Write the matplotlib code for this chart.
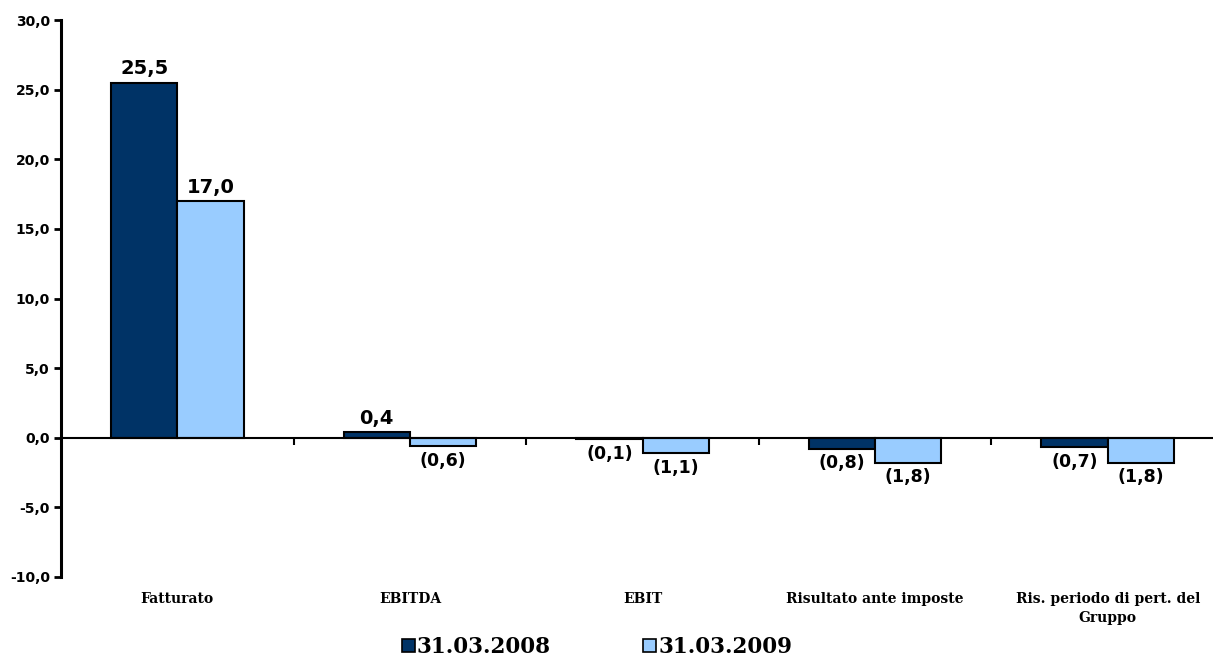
import matplotlib
matplotlib.use("Agg")
import matplotlib.pyplot as plt
from matplotlib.patches import Patch
import numpy as np

categories = ["Fatturato", "EBITDA", "EBIT", "Risultato ante imposte",
              "Ris. periodo di pert. del\nGruppo"]
series_names = ["31.03.2008", "31.03.2009"]
values_2008 = [25.5, 0.4, -0.1, -0.8, -0.7]
values_2009 = [17.0, -0.6, -1.1, -1.8, -1.8]
yticks = [-10, -5, 0, 5, 10, 15, 20, 25, 30]

dark = "#003366"
light = "#99CCFF"

W, H = 1213, 657
fig = plt.figure(figsize=(W / 100, H / 100), dpi=100)
left_px, right_px, top_px, bottom_px = 61, 1224, 20, 577
ax = fig.add_axes([left_px / W, 1 - bottom_px / H,
                   (right_px - left_px) / W, (bottom_px - top_px) / H])

x = np.arange(len(categories))
bw = 0.285
b1 = ax.bar(x - bw / 2, values_2008, bw, color=dark, edgecolor="black", linewidth=1.5, zorder=3)
b2 = ax.bar(x + bw / 2, values_2009, bw, color=light, edgecolor="black", linewidth=1.5, zorder=3)

ax.set_xlim(-0.5, len(categories) - 0.5)
ax.set_ylim(-10, 30)


def fmt(v):
    s = f"{abs(v):.1f}".replace(".", ",")
    return f"({s})" if v < 0 else s


for bars, vals in ((b1, values_2008), (b2, values_2009)):
    for rect, v in zip(bars, vals):
        cx = rect.get_x() + rect.get_width() / 2
        if v >= 0:
            ax.annotate(fmt(v), (cx, v), xytext=(0, 3), textcoords="offset points",
                        ha="center", va="bottom", fontsize=14, fontweight="bold",
                        family="DejaVu Sans", zorder=5)
        else:
            ax.annotate(fmt(v), (cx, v), xytext=(0, -4), textcoords="offset points",
                        ha="center", va="top", fontsize=12.5, fontweight="bold",
                        family="DejaVu Sans", zorder=5)

# y axis
ax.set_yticks(yticks)
ax.set_yticklabels([f"{t:.1f}".replace(".", ",") for t in yticks],
                   fontsize=10, fontweight="bold", family="DejaVu Sans")
ax.tick_params(axis="y", direction="out", length=5, width=2, pad=3)
ax.spines["left"].set_linewidth(2.2)
ax.spines["right"].set_visible(False)
ax.spines["top"].set_visible(False)
ax.spines["bottom"].set_position(("data", 0))
ax.spines["bottom"].set_linewidth(1.5)
ax.spines["bottom"].set_zorder(4)

ax.set_xticks(np.arange(0.5, len(categories) - 0.5, 1.0))
ax.set_xticklabels([])
ax.tick_params(axis="x", direction="out", length=5, width=1.5)

for xi, c in zip(x, categories):
    ax.annotate(c, (xi, 0), xycoords=("data", "axes fraction"), xytext=(0, -11),
                textcoords="offset points", ha="center", va="top",
                fontsize=10, fontweight="bold", family="DejaVu Serif", linespacing=1.4)

handles = [Patch(facecolor=dark, edgecolor="black", linewidth=1.2),
           Patch(facecolor=light, edgecolor="black", linewidth=1.2)]
fig.legend(handles, series_names, loc="center", bbox_to_anchor=(597 / W, 1 - 647 / H),
           ncol=2, frameon=False, handlelength=0.6, handleheight=0.6, handletextpad=0.1,
           columnspacing=4.3, prop={"family": "DejaVu Serif", "weight": "bold", "size": 15.5})

fig.savefig("out.png", dpi=100)
